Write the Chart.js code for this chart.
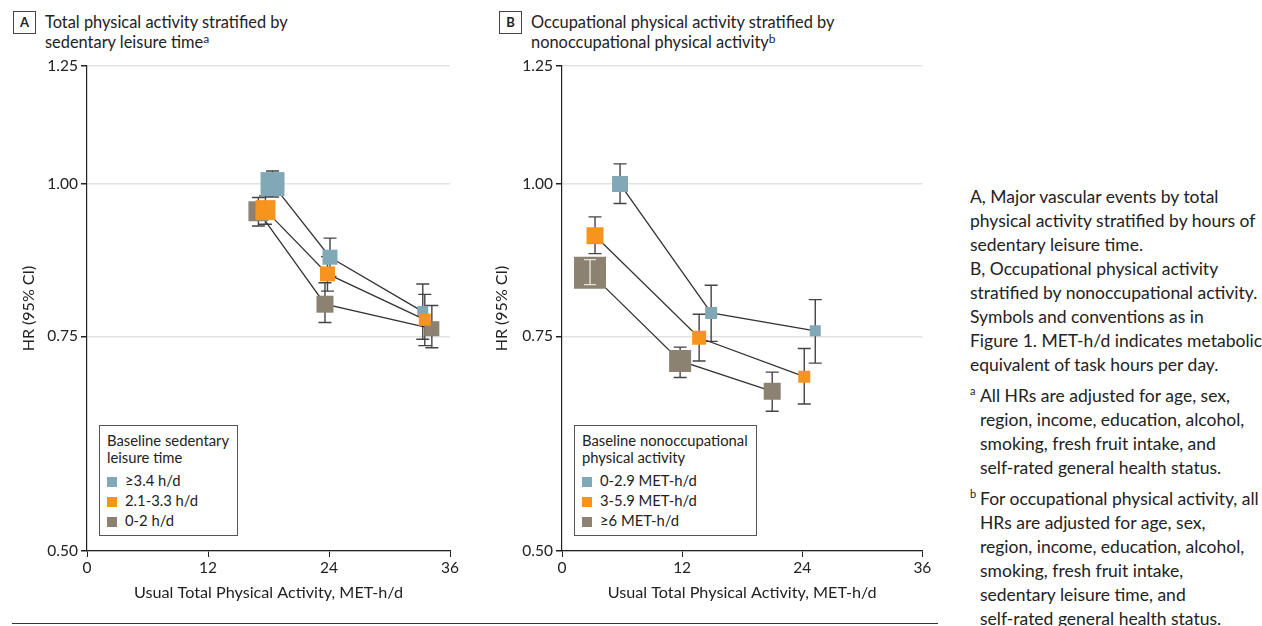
<!DOCTYPE html>
<html>
<head>
<meta charset="utf-8">
<script src="https://cdn.jsdelivr.net/npm/chart.js@4.4.0/dist/chart.umd.min.js"></script>
<style>
    body { margin: 0; background: #fff; font-family: Lato, "Noto Sans", sans-serif; color: #222; }
    #page { position: relative; width: 1262px; height: 626px; overflow: hidden; }
    .box { position: absolute; width: 21px; height: 21px; border: 1px solid #444; font-weight: bold; font-size: 13px; text-align: center; line-height: 21px; }
    .ttl { position: absolute; font-size: 16.4px; line-height: 20px; white-space: nowrap; }
    .ttl sup { font-size: 12px; vertical-align: 5px; line-height: 0; }
    .wrap { position: absolute; top: 0; }
    .legend { position: absolute; border: 1px solid #555; background: #fff; font-size: 14.8px; line-height: 17px; padding: 6px 8px 6px 7px; white-space: nowrap; }
    .legend .it { margin-top: 3px; }
    .legend .first { margin-top: 6px; }
    .legend .sw { display: inline-block; width: 10px; height: 10px; margin-right: 8px; vertical-align: -1px; }
    .notes { position: absolute; left: 970px; top: 185px; font-size: 17.5px; line-height: 24px; white-space: nowrap; }
    .fn { position: relative; padding-left: 10px; margin-top: 7px; }
    .fn sup { position: absolute; left: 0; top: -5px; font-size: 11px; }
    .rule { position: absolute; left: 12px; top: 623px; width: 926px; border-top: 1.5px solid #333; }
</style>
</head>
<body>
<div id="page">
    <div class="box" style="left:13px; top:11px;">A</div>
    <div class="ttl" style="left:45px; top:12px;">Total physical activity stratified by<br>sedentary leisure time<sup>a</sup></div>
    <div class="box" style="left:499px; top:11px;">B</div>
    <div class="ttl" style="left:531px; top:12px;">Occupational physical activity stratified by<br>nonoccupational physical activity<sup>b</sup></div>

    <div class="wrap" style="left:0px;"><canvas id="chartA" width="470" height="610"></canvas></div>
    <div class="wrap" style="left:475px;"><canvas id="chartB" width="470" height="610"></canvas></div>

    <div class="legend" style="left:99px; top:425px;">
        Baseline sedentary<br>leisure time
        <div id="legA"></div>
    </div>
    <div class="legend" style="left:574px; top:425px;">
        Baseline nonoccupational<br>physical activity
        <div id="legB"></div>
    </div>

    <div class="notes">
        A, Major vascular events by total<br>
        physical activity stratified by hours of<br>
        sedentary leisure time.<br>
        B, Occupational physical activity<br>
        stratified by nonoccupational activity.<br>
        Symbols and conventions as in<br>
        Figure 1. MET-h/d indicates metabolic<br>
        equivalent of task hours per day.
        <div class="fn"><sup>a</sup>All HRs are adjusted for age, sex,<br>region, income, education, alcohol,<br>smoking, fresh fruit intake, and<br>self-rated general health status.</div>
        <div class="fn"><sup>b</sup>For occupational physical activity, all<br>HRs are adjusted for age, sex,<br>region, income, education, alcohol,<br>smoking, fresh fruit intake,<br>sedentary leisure time, and<br>self-rated general health status.</div>
    </div>
    <div class="rule"></div>
</div>

<script>
// eje Y (escala log) y eje X
const yTicks = [0.50, 0.75, 1.00, 1.25];
const xTicks = [0, 12, 24, 36];

// Panel A - tiempo sedentario
const seriesA = ['≥3.4 h/d', '2.1-3.3 h/d', '0-2 h/d'];
const aHighX = [18.4, 24.1, 33.3];
const aHighHR = [1.00, 0.871, 0.786];
const aHighLo = [0.976, 0.840, 0.746];
const aHighHi = [1.025, 0.903, 0.828];

const aMidX = [17.7, 23.85, 33.5];
const aMidHR = [0.952, 0.844, 0.774];
const aMidLo = [0.927, 0.817, 0.737];
const aMidHi = [0.978, 0.872, 0.812];

const aLowX = [17.0, 23.6, 34.2];
const aLowHR = [0.950, 0.797, 0.761];
const aLowLo = [0.924, 0.770, 0.734];
const aLowHi = [0.975, 0.830, 0.795];

// Panel B - actividad no ocupacional
const seriesB = ['0-2.9 MET-h/d', '3-5.9 MET-h/d', '≥6 MET-h/d'];
const bLowX = [5.8, 14.9, 25.3];
const bLowHR = [1.00, 0.784, 0.758];
const bLowLo = [0.964, 0.743, 0.713];
const bLowHi = [1.039, 0.826, 0.804];

const bMidX = [3.3, 13.7, 24.2];
const bMidHR = [0.907, 0.748, 0.695];
const bMidLo = [0.877, 0.716, 0.660];
const bMidHi = [0.940, 0.782, 0.733];

const bHighX = [2.8, 11.8, 21.0];
const bHighHR = [0.846, 0.716, 0.676];
const bHighLo = [0.827, 0.694, 0.651];
const bHighHi = [0.867, 0.735, 0.701];

// tamaño de los cuadrados (px de lado)
const sizesA = [[24, 15, 11], [20, 15, 12], [20, 17, 15]];
const sizesB = [[16, 12, 11], [17, 14, 12], [32, 22, 17]];

const colores = ['#80a8b6', '#f7941e', '#8b8272'];
const FONT = 'Lato, "Noto Sans", sans-serif';

function puntos(xs, hr, lo, hi) {
    return xs.map((x, i) => ({ x: x, y: hr[i], lo: lo[i], hi: hi[i] }));
}

function dataset(label, pts, color, sides, order) {
    return {
        label: label,
        data: pts,
        sides: sides,
        order: order,
        showLine: true,
        borderColor: '#333',
        borderWidth: 1.3,
        backgroundColor: color,
        pointStyle: 'rect',
        pointBackgroundColor: color,
        pointBorderWidth: 0,
        pointRadius: sides.map(s => s / Math.SQRT2),
        pointHoverRadius: sides.map(s => s / Math.SQRT2)
    };
}

// barras de error: detras de los cuadrados, o encima en claro si el IC cabe dentro
function dibujarBarras(chart, encima) {
    const { ctx, scales: { x, y } } = chart;
    ctx.save();
    ctx.lineWidth = 1.4;
    chart.data.datasets.forEach(ds => {
        ds.data.forEach((p, j) => {
            const px = x.getPixelForValue(p.x);
            const py = y.getPixelForValue(p.y);
            const yl = y.getPixelForValue(p.lo);
            const yh = y.getPixelForValue(p.hi);
            const half = ds.sides[j] / 2;
            const dentro = (yl - py) < half - 1 && (py - yh) < half - 1;
            if (dentro !== encima) return;
            ctx.strokeStyle = encima ? '#e6e2da' : '#444';
            const cap = encima ? 6 : 6.5;
            ctx.beginPath();
            ctx.moveTo(px, yl); ctx.lineTo(px, yh);
            ctx.moveTo(px - cap, yl); ctx.lineTo(px + cap, yl);
            ctx.moveTo(px - cap, yh); ctx.lineTo(px + cap, yh);
            ctx.stroke();
        });
    });
    ctx.restore();
}

const errorBars = {
    id: 'errorBars',
    beforeDatasetsDraw(chart) { dibujarBarras(chart, false); },
    afterDatasetsDraw(chart) { dibujarBarras(chart, true); }
};

function crearGrafico(id, datasets, padRight, titlePad) {
    const ctx = document.getElementById(id).getContext('2d');
    return new Chart(ctx, {
        type: 'scatter',
        data: { datasets: datasets },
        plugins: [errorBars],
        options: {
            responsive: false,
            animation: false,
            events: [],
            layout: { padding: { top: 66, right: padRight, left: 0, bottom: 0 } },
            plugins: { legend: { display: false }, tooltip: { enabled: false } },
            scales: {
                x: {
                    type: 'linear', min: 0, max: 36,
                    afterBuildTicks: s => { s.ticks = xTicks.map(v => ({ value: v })); },
                    ticks: { color: '#222', font: { family: FONT, size: 15.5 }, padding: 2 },
                    grid: { drawOnChartArea: false, tickLength: 6, tickColor: '#222' },
                    border: { color: '#222', width: 1.2 },
                    title: { display: true, text: 'Usual Total Physical Activity, MET-h/d', color: '#222', font: { family: FONT, size: 16.2 }, padding: { top: 0, bottom: 8 } },
                    afterFit: s => { s.height = 59; }
                },
                y: {
                    type: 'logarithmic', min: 0.5, max: 1.25,
                    afterBuildTicks: s => { s.ticks = yTicks.map(v => ({ value: v })); },
                    ticks: { callback: v => Number(v).toFixed(2), color: '#222', font: { family: FONT, size: 15.5 }, padding: 3 },
                    grid: { color: '#e2e2e2', lineWidth: 1.5, tickLength: 6, tickColor: '#222' },
                    border: { color: '#222', width: 1.2 },
                    title: { display: true, text: 'HR (95% CI)', color: '#222', font: { family: FONT, size: 16 }, padding: { top: titlePad, bottom: 0 } },
                    afterFit: s => { s.width = 87; }
                }
            }
        }
    });
}

crearGrafico('chartA', [
    dataset(seriesA[0], puntos(aHighX, aHighHR, aHighLo, aHighHi), colores[0], sizesA[0], 2),
    dataset(seriesA[1], puntos(aMidX, aMidHR, aMidLo, aMidHi), colores[1], sizesA[1], 1),
    dataset(seriesA[2], puntos(aLowX, aLowHR, aLowLo, aLowHi), colores[2], sizesA[2], 3)
], 20, 19);

crearGrafico('chartB', [
    dataset(seriesB[0], puntos(bLowX, bLowHR, bLowLo, bLowHi), colores[0], sizesB[0], 2),
    dataset(seriesB[1], puntos(bMidX, bMidHR, bMidLo, bMidHi), colores[1], sizesB[1], 1),
    dataset(seriesB[2], puntos(bHighX, bHighHR, bHighLo, bHighHi), colores[2], sizesB[2], 3)
], 22, 17);

// leyendas
function leyenda(id, labels) {
    document.getElementById(id).innerHTML = labels.map((l, i) =>
        `<div class="it${i === 0 ? ' first' : ''}"><span class="sw" style="background:${colores[i]}"></span>${l}</div>`).join('');
}
leyenda('legA', seriesA);
leyenda('legB', seriesB);
</script>
</body>
</html>
